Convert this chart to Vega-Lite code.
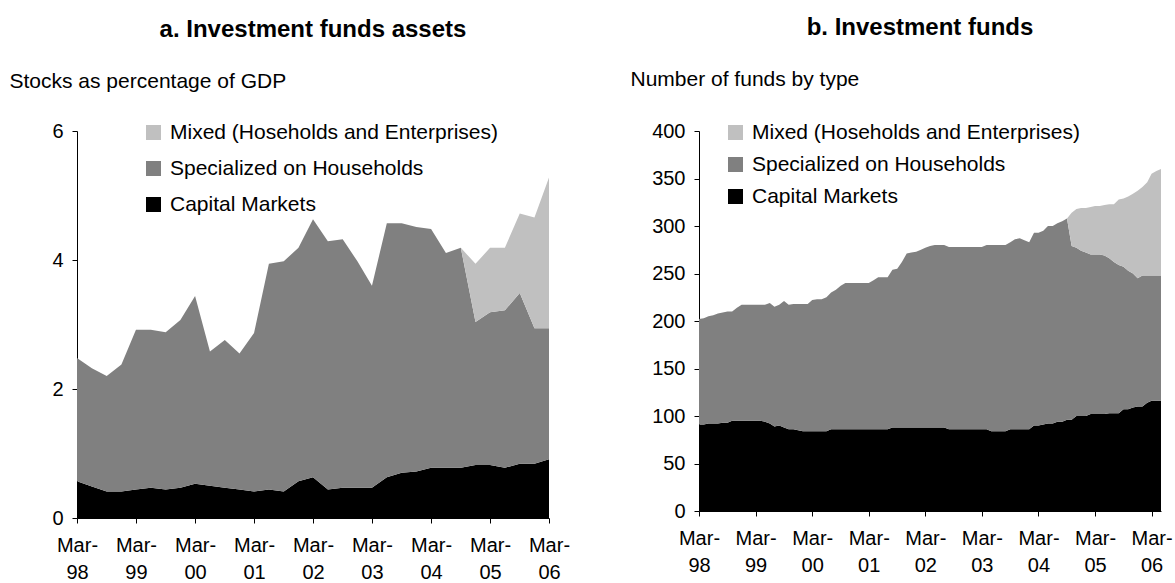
{
  "$schema": "https://vega.github.io/schema/vega-lite/v6.json",
  "background": "white",
  "padding": {"left": 9, "top": 16, "right": 0, "bottom": 0},
  "spacing": 60,
  "resolve": {"scale": {"color": "independent"}, "legend": {"color": "independent"}},
  "config": {
    "font": "Liberation Sans",
    "view": {"stroke": null},
    "axis": {"grid": false, "domainColor": "#000000", "tickColor": "#000000", "labelColor": "#000000", "labelFontSize": 20, "tickSize": 5, "labelPadding": 9, "domainWidth": 1, "tickWidth": 1, "titleColor": "#000000"},
    "title": {"fontSize": 24, "fontWeight": "bold", "color": "#000000"},
    "legend": {"orient": "none", "symbolType": "square", "symbolSize": 225, "symbolStrokeWidth": 0, "labelFontSize": 21, "labelColor": "#000000", "labelOffset": 6, "padding": 0, "title": null, "labelLimit": 600}
  },
  "datasets": {
    "layers": [
      {"key": "capital", "label": "Capital Markets", "rank": 1},
      {"key": "households", "label": "Specialized on Households", "rank": 2},
      {"key": "mixed", "label": "Mixed (Hoseholds and Enterprises)", "rank": 3}
    ]
  },
  "hconcat": [
    {
      "width": 472,
      "height": 387,
      "title": {"text": "a. Investment funds assets", "anchor": "middle", "offset": 28},
      "data": {"values": [
        {"date": "1998-03-01", "capital": 0.57, "households": 1.91, "mixed": 0},
        {"date": "1998-06-01", "capital": 0.49, "households": 1.83, "mixed": 0},
        {"date": "1998-09-01", "capital": 0.41, "households": 1.79, "mixed": 0},
        {"date": "1998-12-01", "capital": 0.41, "households": 1.97, "mixed": 0},
        {"date": "1999-03-01", "capital": 0.44, "households": 2.48, "mixed": 0},
        {"date": "1999-06-01", "capital": 0.47, "households": 2.45, "mixed": 0},
        {"date": "1999-09-01", "capital": 0.44, "households": 2.44, "mixed": 0},
        {"date": "1999-12-01", "capital": 0.47, "households": 2.60, "mixed": 0},
        {"date": "2000-03-01", "capital": 0.53, "households": 2.91, "mixed": 0},
        {"date": "2000-06-01", "capital": 0.50, "households": 2.08, "mixed": 0},
        {"date": "2000-09-01", "capital": 0.47, "households": 2.29, "mixed": 0},
        {"date": "2000-12-01", "capital": 0.44, "households": 2.11, "mixed": 0},
        {"date": "2001-03-01", "capital": 0.41, "households": 2.46, "mixed": 0},
        {"date": "2001-06-01", "capital": 0.44, "households": 3.50, "mixed": 0},
        {"date": "2001-09-01", "capital": 0.41, "households": 3.57, "mixed": 0},
        {"date": "2001-12-01", "capital": 0.57, "households": 3.62, "mixed": 0},
        {"date": "2002-03-01", "capital": 0.63, "households": 4.00, "mixed": 0},
        {"date": "2002-06-01", "capital": 0.44, "households": 3.85, "mixed": 0},
        {"date": "2002-09-01", "capital": 0.47, "households": 3.85, "mixed": 0},
        {"date": "2002-12-01", "capital": 0.47, "households": 3.51, "mixed": 0},
        {"date": "2003-03-01", "capital": 0.47, "households": 3.13, "mixed": 0},
        {"date": "2003-06-01", "capital": 0.63, "households": 3.94, "mixed": 0},
        {"date": "2003-09-01", "capital": 0.70, "households": 3.87, "mixed": 0},
        {"date": "2003-12-01", "capital": 0.72, "households": 3.79, "mixed": 0},
        {"date": "2004-03-01", "capital": 0.78, "households": 3.70, "mixed": 0},
        {"date": "2004-06-01", "capital": 0.78, "households": 3.33, "mixed": 0},
        {"date": "2004-09-01", "capital": 0.78, "households": 3.41, "mixed": 0},
        {"date": "2004-12-01", "capital": 0.82, "households": 2.22, "mixed": 0.90},
        {"date": "2005-03-01", "capital": 0.82, "households": 2.37, "mixed": 1.00},
        {"date": "2005-06-01", "capital": 0.78, "households": 2.44, "mixed": 0.97},
        {"date": "2005-09-01", "capital": 0.84, "households": 2.65, "mixed": 1.23},
        {"date": "2005-12-01", "capital": 0.84, "households": 2.10, "mixed": 1.72},
        {"date": "2006-03-01", "capital": 0.91, "households": 2.03, "mixed": 2.34}
      ]},
      "transform": [
        {"fold": ["capital", "households", "mixed"], "as": ["key", "value"]},
        {"lookup": "key", "from": {"data": {"name": "layers"}, "key": "key", "fields": ["label", "rank"]}}
      ],
      "mark": {"type": "area", "interpolate": "linear"},
      "encoding": {
        "x": {"field": "date", "type": "temporal",
          "scale": {"type": "utc", "nice": false, "domain": [{"year": 1998, "month": 3, "date": 1, "utc": true}, {"year": 2006, "month": 3, "date": 1, "utc": true}]},
          "axis": {"title": null, "values": [
            {"year": 1998, "month": 3, "date": 1, "utc": true}, {"year": 1999, "month": 3, "date": 1, "utc": true}, {"year": 2000, "month": 3, "date": 1, "utc": true},
            {"year": 2001, "month": 3, "date": 1, "utc": true}, {"year": 2002, "month": 3, "date": 1, "utc": true}, {"year": 2003, "month": 3, "date": 1, "utc": true},
            {"year": 2004, "month": 3, "date": 1, "utc": true}, {"year": 2005, "month": 3, "date": 1, "utc": true}, {"year": 2006, "month": 3, "date": 1, "utc": true}],
            "labelExpr": "['Mar-', utcFormat(datum.value, '%y')]", "labelLineHeight": 27, "labelPadding": 12, "labelOverlap": false, "labelFlush": false}},
        "y": {"field": "value", "type": "quantitative", "stack": "zero",
          "scale": {"domain": [0, 6], "nice": false},
          "axis": {"values": [0, 2, 4, 6], "title": "Stocks as percentage of GDP", "titleAngle": 0, "titleAlign": "left", "titleBaseline": "alphabetic", "titleX": -68, "titleY": -44, "titleFontSize": 21, "titleFontWeight": "normal"}},
        "color": {"field": "label", "type": "nominal",
          "scale": {"domain": ["Mixed (Hoseholds and Enterprises)", "Specialized on Households", "Capital Markets"], "range": ["#C0C0C0", "#808080", "#000000"]},
          "legend": {"legendX": 66, "legendY": -9, "rowPadding": 14}},
        "order": {"field": "rank", "type": "quantitative"}
      }
    },
    {
      "width": 462,
      "height": 380,
      "title": {"text": "b. Investment funds", "anchor": "middle", "offset": 28, "dx": -10},
      "data": {"values": [
        {"date": "1998-03-01", "capital": 91, "households": 111, "mixed": 0},
        {"date": "1998-04-01", "capital": 91, "households": 112, "mixed": 0},
        {"date": "1998-05-01", "capital": 92, "households": 113, "mixed": 0},
        {"date": "1998-06-01", "capital": 92, "households": 114, "mixed": 0},
        {"date": "1998-07-01", "capital": 92, "households": 116, "mixed": 0},
        {"date": "1998-08-01", "capital": 93, "households": 116, "mixed": 0},
        {"date": "1998-09-01", "capital": 93, "households": 117, "mixed": 0},
        {"date": "1998-10-01", "capital": 95, "households": 115, "mixed": 0},
        {"date": "1998-11-01", "capital": 95, "households": 119, "mixed": 0},
        {"date": "1998-12-01", "capital": 95, "households": 122, "mixed": 0},
        {"date": "1999-01-01", "capital": 95, "households": 122, "mixed": 0},
        {"date": "1999-02-01", "capital": 95, "households": 122, "mixed": 0},
        {"date": "1999-03-01", "capital": 95, "households": 122, "mixed": 0},
        {"date": "1999-04-01", "capital": 95, "households": 122, "mixed": 0},
        {"date": "1999-05-01", "capital": 94, "households": 123, "mixed": 0},
        {"date": "1999-06-01", "capital": 92, "households": 127, "mixed": 0},
        {"date": "1999-07-01", "capital": 89, "households": 126, "mixed": 0},
        {"date": "1999-08-01", "capital": 90, "households": 127, "mixed": 0},
        {"date": "1999-09-01", "capital": 88, "households": 133, "mixed": 0},
        {"date": "1999-10-01", "capital": 86, "households": 131, "mixed": 0},
        {"date": "1999-11-01", "capital": 86, "households": 132, "mixed": 0},
        {"date": "1999-12-01", "capital": 85, "households": 133, "mixed": 0},
        {"date": "2000-01-01", "capital": 84, "households": 134, "mixed": 0},
        {"date": "2000-02-01", "capital": 84, "households": 134, "mixed": 0},
        {"date": "2000-03-01", "capital": 84, "households": 138, "mixed": 0},
        {"date": "2000-04-01", "capital": 84, "households": 139, "mixed": 0},
        {"date": "2000-05-01", "capital": 84, "households": 139, "mixed": 0},
        {"date": "2000-06-01", "capital": 84, "households": 141, "mixed": 0},
        {"date": "2000-07-01", "capital": 86, "households": 144, "mixed": 0},
        {"date": "2000-08-01", "capital": 86, "households": 147, "mixed": 0},
        {"date": "2000-09-01", "capital": 86, "households": 151, "mixed": 0},
        {"date": "2000-10-01", "capital": 86, "households": 154, "mixed": 0},
        {"date": "2000-11-01", "capital": 86, "households": 154, "mixed": 0},
        {"date": "2000-12-01", "capital": 86, "households": 154, "mixed": 0},
        {"date": "2001-01-01", "capital": 86, "households": 154, "mixed": 0},
        {"date": "2001-02-01", "capital": 86, "households": 154, "mixed": 0},
        {"date": "2001-03-01", "capital": 86, "households": 154, "mixed": 0},
        {"date": "2001-04-01", "capital": 86, "households": 157, "mixed": 0},
        {"date": "2001-05-01", "capital": 86, "households": 160, "mixed": 0},
        {"date": "2001-06-01", "capital": 86, "households": 160, "mixed": 0},
        {"date": "2001-07-01", "capital": 86, "households": 160, "mixed": 0},
        {"date": "2001-08-01", "capital": 88, "households": 166, "mixed": 0},
        {"date": "2001-09-01", "capital": 88, "households": 167, "mixed": 0},
        {"date": "2001-10-01", "capital": 88, "households": 174, "mixed": 0},
        {"date": "2001-11-01", "capital": 88, "households": 183, "mixed": 0},
        {"date": "2001-12-01", "capital": 88, "households": 184, "mixed": 0},
        {"date": "2002-01-01", "capital": 88, "households": 185, "mixed": 0},
        {"date": "2002-02-01", "capital": 88, "households": 187, "mixed": 0},
        {"date": "2002-03-01", "capital": 88, "households": 189, "mixed": 0},
        {"date": "2002-04-01", "capital": 88, "households": 191, "mixed": 0},
        {"date": "2002-05-01", "capital": 88, "households": 192, "mixed": 0},
        {"date": "2002-06-01", "capital": 88, "households": 192, "mixed": 0},
        {"date": "2002-07-01", "capital": 88, "households": 192, "mixed": 0},
        {"date": "2002-08-01", "capital": 86, "households": 192, "mixed": 0},
        {"date": "2002-09-01", "capital": 86, "households": 192, "mixed": 0},
        {"date": "2002-10-01", "capital": 86, "households": 192, "mixed": 0},
        {"date": "2002-11-01", "capital": 86, "households": 192, "mixed": 0},
        {"date": "2002-12-01", "capital": 86, "households": 192, "mixed": 0},
        {"date": "2003-01-01", "capital": 86, "households": 192, "mixed": 0},
        {"date": "2003-02-01", "capital": 86, "households": 192, "mixed": 0},
        {"date": "2003-03-01", "capital": 86, "households": 192, "mixed": 0},
        {"date": "2003-04-01", "capital": 86, "households": 194, "mixed": 0},
        {"date": "2003-05-01", "capital": 84, "households": 196, "mixed": 0},
        {"date": "2003-06-01", "capital": 84, "households": 196, "mixed": 0},
        {"date": "2003-07-01", "capital": 84, "households": 196, "mixed": 0},
        {"date": "2003-08-01", "capital": 84, "households": 196, "mixed": 0},
        {"date": "2003-09-01", "capital": 86, "households": 197, "mixed": 0},
        {"date": "2003-10-01", "capital": 86, "households": 200, "mixed": 0},
        {"date": "2003-11-01", "capital": 86, "households": 201, "mixed": 0},
        {"date": "2003-12-01", "capital": 86, "households": 199, "mixed": 0},
        {"date": "2004-01-01", "capital": 86, "households": 197, "mixed": 0},
        {"date": "2004-02-01", "capital": 90, "households": 203, "mixed": 0},
        {"date": "2004-03-01", "capital": 90, "households": 203, "mixed": 0},
        {"date": "2004-04-01", "capital": 91, "households": 204, "mixed": 0},
        {"date": "2004-05-01", "capital": 92, "households": 208, "mixed": 0},
        {"date": "2004-06-01", "capital": 92, "households": 208, "mixed": 0},
        {"date": "2004-07-01", "capital": 94, "households": 209, "mixed": 0},
        {"date": "2004-08-01", "capital": 94, "households": 211, "mixed": 0},
        {"date": "2004-09-01", "capital": 96, "households": 212, "mixed": 0},
        {"date": "2004-10-01", "capital": 96, "households": 183, "mixed": 35},
        {"date": "2004-11-01", "capital": 100, "households": 177, "mixed": 41},
        {"date": "2004-12-01", "capital": 100, "households": 174, "mixed": 45},
        {"date": "2005-01-01", "capital": 100, "households": 172, "mixed": 47},
        {"date": "2005-02-01", "capital": 102, "households": 168, "mixed": 50},
        {"date": "2005-03-01", "capital": 102, "households": 168, "mixed": 51},
        {"date": "2005-04-01", "capital": 102, "households": 168, "mixed": 51},
        {"date": "2005-05-01", "capital": 102, "households": 167, "mixed": 53},
        {"date": "2005-06-01", "capital": 103, "households": 163, "mixed": 57},
        {"date": "2005-07-01", "capital": 103, "households": 159, "mixed": 61},
        {"date": "2005-08-01", "capital": 103, "households": 156, "mixed": 69},
        {"date": "2005-09-01", "capital": 107, "households": 150, "mixed": 72},
        {"date": "2005-10-01", "capital": 107, "households": 146, "mixed": 78},
        {"date": "2005-11-01", "capital": 109, "households": 141, "mixed": 84},
        {"date": "2005-12-01", "capital": 110, "households": 135, "mixed": 92},
        {"date": "2006-01-01", "capital": 110, "households": 138, "mixed": 93},
        {"date": "2006-02-01", "capital": 114, "households": 134, "mixed": 98},
        {"date": "2006-03-01", "capital": 116, "households": 132, "mixed": 107},
        {"date": "2006-04-01", "capital": 116, "households": 132, "mixed": 110},
        {"date": "2006-05-01", "capital": 116, "households": 132, "mixed": 112}
      ]},
      "transform": [
        {"fold": ["capital", "households", "mixed"], "as": ["key", "value"]},
        {"lookup": "key", "from": {"data": {"name": "layers"}, "key": "key", "fields": ["label", "rank"]}}
      ],
      "mark": {"type": "area", "interpolate": "linear"},
      "encoding": {
        "x": {"field": "date", "type": "temporal",
          "scale": {"type": "utc", "nice": false, "domain": [{"year": 1998, "month": 3, "date": 1, "utc": true}, {"year": 2006, "month": 5, "date": 1, "utc": true}]},
          "axis": {"title": null, "values": [
            {"year": 1998, "month": 3, "date": 1, "utc": true}, {"year": 1999, "month": 3, "date": 1, "utc": true}, {"year": 2000, "month": 3, "date": 1, "utc": true},
            {"year": 2001, "month": 3, "date": 1, "utc": true}, {"year": 2002, "month": 3, "date": 1, "utc": true}, {"year": 2003, "month": 3, "date": 1, "utc": true},
            {"year": 2004, "month": 3, "date": 1, "utc": true}, {"year": 2005, "month": 3, "date": 1, "utc": true}, {"year": 2006, "month": 3, "date": 1, "utc": true}],
            "labelExpr": "['Mar-', utcFormat(datum.value, '%y')]", "labelLineHeight": 27, "labelPadding": 12, "labelOverlap": false, "labelFlush": false}},
        "y": {"field": "value", "type": "quantitative", "stack": "zero",
          "scale": {"domain": [0, 400], "nice": false},
          "axis": {"values": [0, 50, 100, 150, 200, 250, 300, 350, 400], "title": "Number of funds by type", "titleAngle": 0, "titleAlign": "left", "titleBaseline": "alphabetic", "titleX": -69, "titleY": -46, "titleFontSize": 21, "titleFontWeight": "normal"}},
        "color": {"field": "label", "type": "nominal",
          "scale": {"domain": ["Mixed (Hoseholds and Enterprises)", "Specialized on Households", "Capital Markets"], "range": ["#C0C0C0", "#808080", "#000000"]},
          "legend": {"legendX": 26, "legendY": -9, "rowPadding": 10}},
        "order": {"field": "rank", "type": "quantitative"}
      }
    }
  ]
}
